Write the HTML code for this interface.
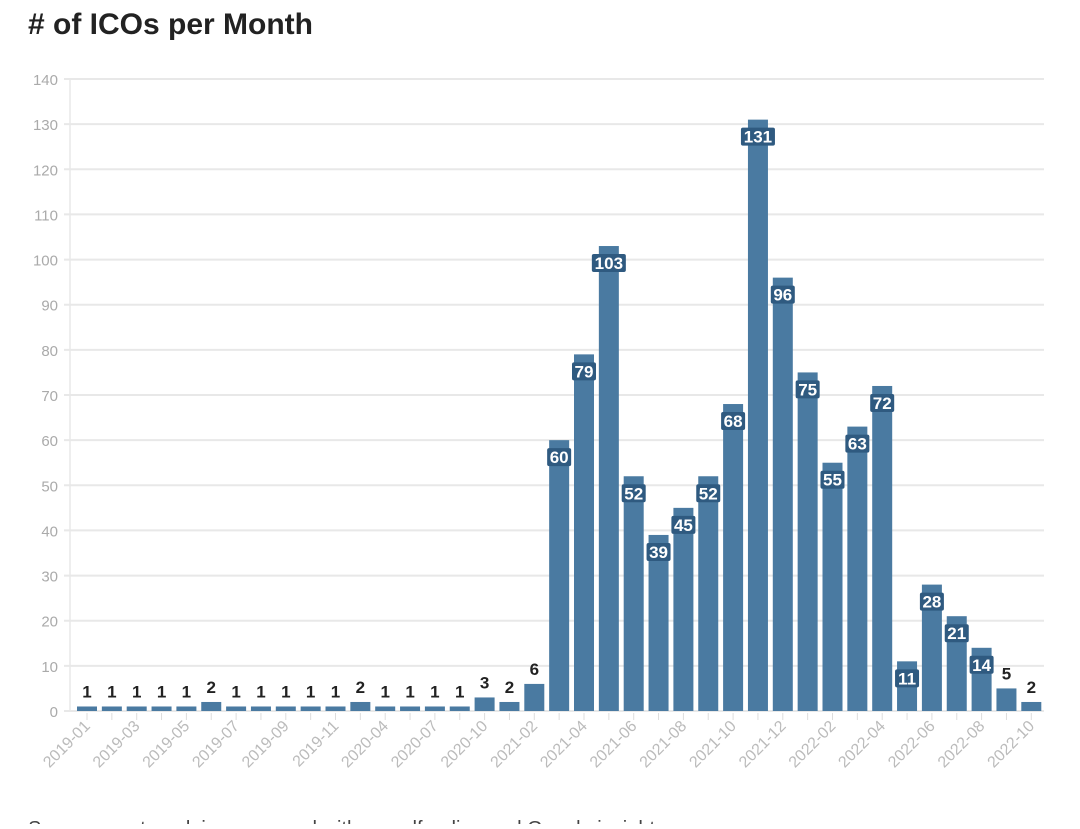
<!DOCTYPE html>
<html><head><meta charset="utf-8"><style>
body{margin:0;background:#fff;width:1080px;height:824px;overflow:hidden;font-family:"Liberation Sans",sans-serif}
</style></head><body>
<svg width="1080" height="824" xmlns="http://www.w3.org/2000/svg" font-family="Liberation Sans, sans-serif">
<text x="28" y="34" font-size="30" font-weight="bold" fill="#222">#  of ICOs per Month</text>
<g id="grid"></g>
<g id="bars"></g>
<text x="28" y="835" font-size="20" fill="#444">Source: cryptorank.io, compared with crowdfunding and Google insights</text>
</svg>
<script>
const vals=[1,1,1,1,1,2,1,1,1,1,1,2,1,1,1,1,3,2,6,60,79,103,52,39,45,52,68,131,96,75,55,63,72,11,28,21,14,5,2];
const labs=["2019-01","2019-03","2019-05","2019-07","2019-09","2019-11","2020-04","2020-07","2020-10","2021-02","2021-04","2021-06","2021-08","2021-10","2021-12","2022-02","2022-04","2022-06","2022-08","2022-10"];
const NS="http://www.w3.org/2000/svg";
const g=document.getElementById("grid"),b=document.getElementById("bars");
function el(p,t,a,txt){const e=document.createElementNS(NS,t);for(const k in a)e.setAttribute(k,a[k]);if(txt!==undefined)e.textContent=txt;p.appendChild(e);return e;}
const y0=711,s=632/140;
for(let v=0;v<=140;v+=10){const y=y0-v*s;
el(g,"line",{x1:64,x2:1044,y1:y,y2:y,stroke:"#e8e8e8","stroke-width":2});
el(g,"text",{x:58,y:y+6,"text-anchor":"end","font-size":15,fill:"#aaa"},v);}
el(g,"line",{x1:70,x2:70,y1:79,y2:711,stroke:"#e8e8e8","stroke-width":1.5});
const x0=77,p=24.85,w=20;
vals.forEach((v,i)=>{const x=x0+i*p,h=v*s,top=y0-h;
el(b,"rect",{x:x,y:top,width:w,height:h,fill:"#4a7aa1"});
el(b,"line",{x1:x+w/2,x2:x+w/2,y1:713,y2:720,stroke:"#ddd"});
if(v>=11){const tw=String(v).length*10+4;
el(b,"rect",{x:x+w/2-tw/2,y:top+8,width:tw,height:18,fill:"#2f5a80",rx:2});
el(b,"text",{x:x+w/2,y:top+23,"text-anchor":"middle","font-size":17,"font-weight":"bold",fill:"#fff"},v);}
else{el(b,"text",{x:x+w/2,y:top-9,"text-anchor":"middle","font-size":17,"font-weight":"bold",fill:"#222"},v);}
if(i%2==0){const lx=x+w/2+4,ly=727;
el(b,"text",{x:lx,y:ly,"text-anchor":"end","font-size":16,fill:"#bbb",transform:`rotate(-45 ${lx} ${ly})`},labs[i/2]);}
});
</script>
</body></html>
